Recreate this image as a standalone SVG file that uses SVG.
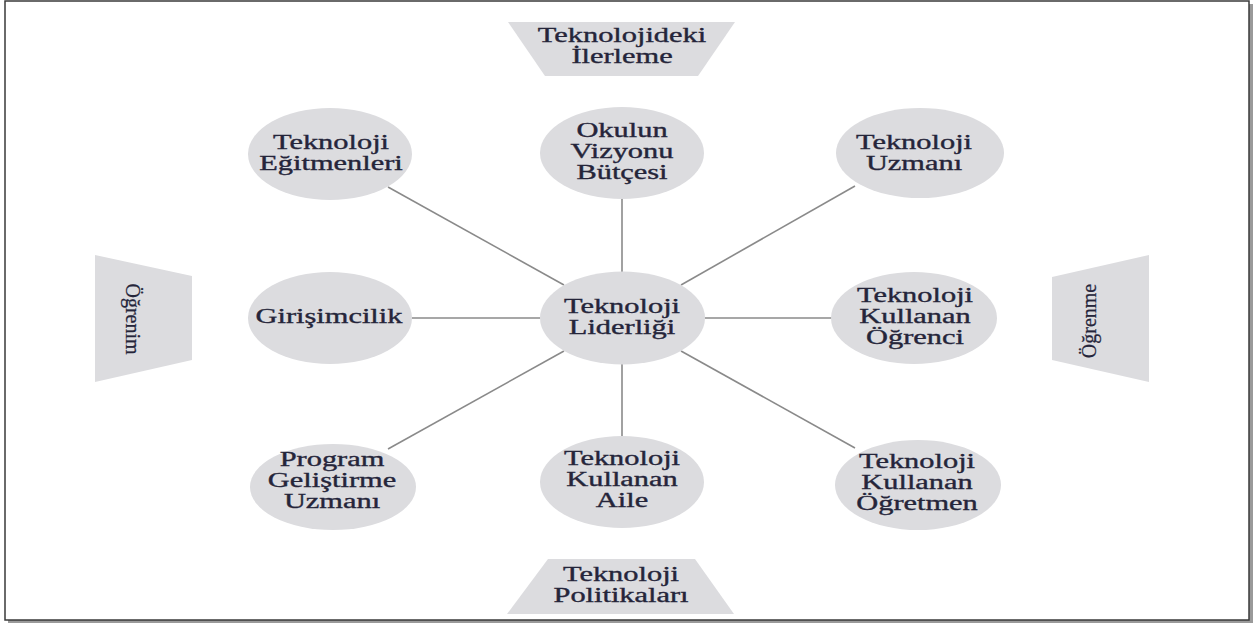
<svg xmlns="http://www.w3.org/2000/svg" width="1253" height="623" viewBox="0 0 1253 623">
<style>
.bg{fill:#ffffff}
.frame{fill:none;stroke:#3a3a3a;stroke-width:1.5}
.shadow{fill:#9a9a9a}
.node{fill:#dcdcdf}
.trap{fill:#dcdcdf}
.t{font-family:"Liberation Serif","Times New Roman",serif;font-size:20px;fill:#25253a;text-anchor:middle;stroke:#25253a;stroke-width:0.35}
.v{font-family:"Liberation Serif","Times New Roman",serif;font-size:20px;fill:#25253a;text-anchor:middle;stroke:#25253a;stroke-width:0.25}
.conn line{stroke:#8a8a8a;stroke-width:1.6}
</style>
<rect class="bg" x="0" y="0" width="1253" height="623"/>
<rect class="shadow" x="1249" y="4" width="4" height="619"/>
<rect class="shadow" x="8" y="620" width="1245" height="3"/>
<rect class="frame" x="5" y="1" width="1244" height="619"/>

<g id="connectors" class="conn">
<line x1="622" y1="199" x2="622" y2="272"/>
<line x1="622" y1="364" x2="622" y2="437"/>
<line x1="412" y1="318" x2="540" y2="318"/>
<line x1="705" y1="318" x2="832" y2="318"/>
<line x1="388" y1="187" x2="564" y2="285"/>
<line x1="855" y1="186" x2="681" y2="285"/>
<line x1="388" y1="449" x2="564" y2="351"/>
<line x1="855" y1="448" x2="681" y2="351"/>
</g>

<g id="top-label">
<polygon class="trap" points="508,22 735,22 698,76 545,76"/>
<text class="t" transform="translate(622,0) scale(1.52,1)"><tspan x="0" y="42">Teknolojideki</tspan><tspan x="0" y="63">İlerleme</tspan></text>
</g>
<g id="bottom-label">
<polygon class="trap" points="548,559 695,559 734,614 507,614"/>
<text class="t" transform="translate(621,0) scale(1.52,1)"><tspan x="0" y="581">Teknoloji</tspan><tspan x="0" y="602">Politikaları</tspan></text>
</g>
<g id="left-label">
<polygon class="trap" points="95,255 192,276 192,360 95,382"/>
<text class="v" transform="translate(126,319) rotate(90)" x="0" y="0">Öğrenim</text>
</g>
<g id="right-label">
<polygon class="trap" points="1052,277 1149,255 1149,382 1052,360"/>
<text class="v" transform="translate(1096,321) rotate(-90)" x="0" y="0">Öğrenme</text>
</g>

<g id="n-egitmen">
<ellipse class="node" cx="330" cy="154" rx="82" ry="46"/>
<text class="t" transform="translate(331,0) scale(1.52,1)"><tspan x="0" y="149">Teknoloji</tspan><tspan x="0" y="170">Eğitmenleri</tspan></text>
</g>
<g id="n-okul">
<ellipse class="node" cx="622" cy="153" rx="82" ry="46"/>
<text class="t" transform="translate(622,0) scale(1.52,1)"><tspan x="0" y="137">Okulun</tspan><tspan x="0" y="158">Vizyonu</tspan><tspan x="0" y="179">Bütçesi</tspan></text>
</g>
<g id="n-uzman">
<ellipse class="node" cx="920" cy="153" rx="84" ry="45"/>
<text class="t" transform="translate(914,0) scale(1.52,1)"><tspan x="0" y="149">Teknoloji</tspan><tspan x="0" y="170">Uzmanı</tspan></text>
</g>
<g id="n-girisim">
<ellipse class="node" cx="330" cy="318" rx="82" ry="46"/>
<text class="t" transform="translate(329,0) scale(1.52,1)"><tspan x="0" y="323">Girişimcilik</tspan></text>
</g>
<g id="n-lider">
<ellipse class="node" cx="622.5" cy="318" rx="82.5" ry="46.5"/>
<text class="t" transform="translate(622,0) scale(1.52,1)"><tspan x="0" y="313">Teknoloji</tspan><tspan x="0" y="334">Liderliği</tspan></text>
</g>
<g id="n-ogrenci">
<ellipse class="node" cx="914" cy="318" rx="83" ry="46"/>
<text class="t" transform="translate(915,0) scale(1.52,1)"><tspan x="0" y="302">Teknoloji</tspan><tspan x="0" y="323">Kullanan</tspan><tspan x="0" y="344">Öğrenci</tspan></text>
</g>
<g id="n-program">
<ellipse class="node" cx="333" cy="487" rx="83" ry="43"/>
<text class="t" transform="translate(332,0) scale(1.52,1)"><tspan x="0" y="466">Program</tspan><tspan x="0" y="487">Geliştirme</tspan><tspan x="0" y="508">Uzmanı</tspan></text>
</g>
<g id="n-aile">
<ellipse class="node" cx="622" cy="482" rx="82" ry="46"/>
<text class="t" transform="translate(622,0) scale(1.52,1)"><tspan x="0" y="465">Teknoloji</tspan><tspan x="0" y="486">Kullanan</tspan><tspan x="0" y="507">Aile</tspan></text>
</g>
<g id="n-ogretmen">
<ellipse class="node" cx="918" cy="485" rx="83" ry="45"/>
<text class="t" transform="translate(917,0) scale(1.52,1)"><tspan x="0" y="468">Teknoloji</tspan><tspan x="0" y="489">Kullanan</tspan><tspan x="0" y="510">Öğretmen</tspan></text>
</g>
</svg>
